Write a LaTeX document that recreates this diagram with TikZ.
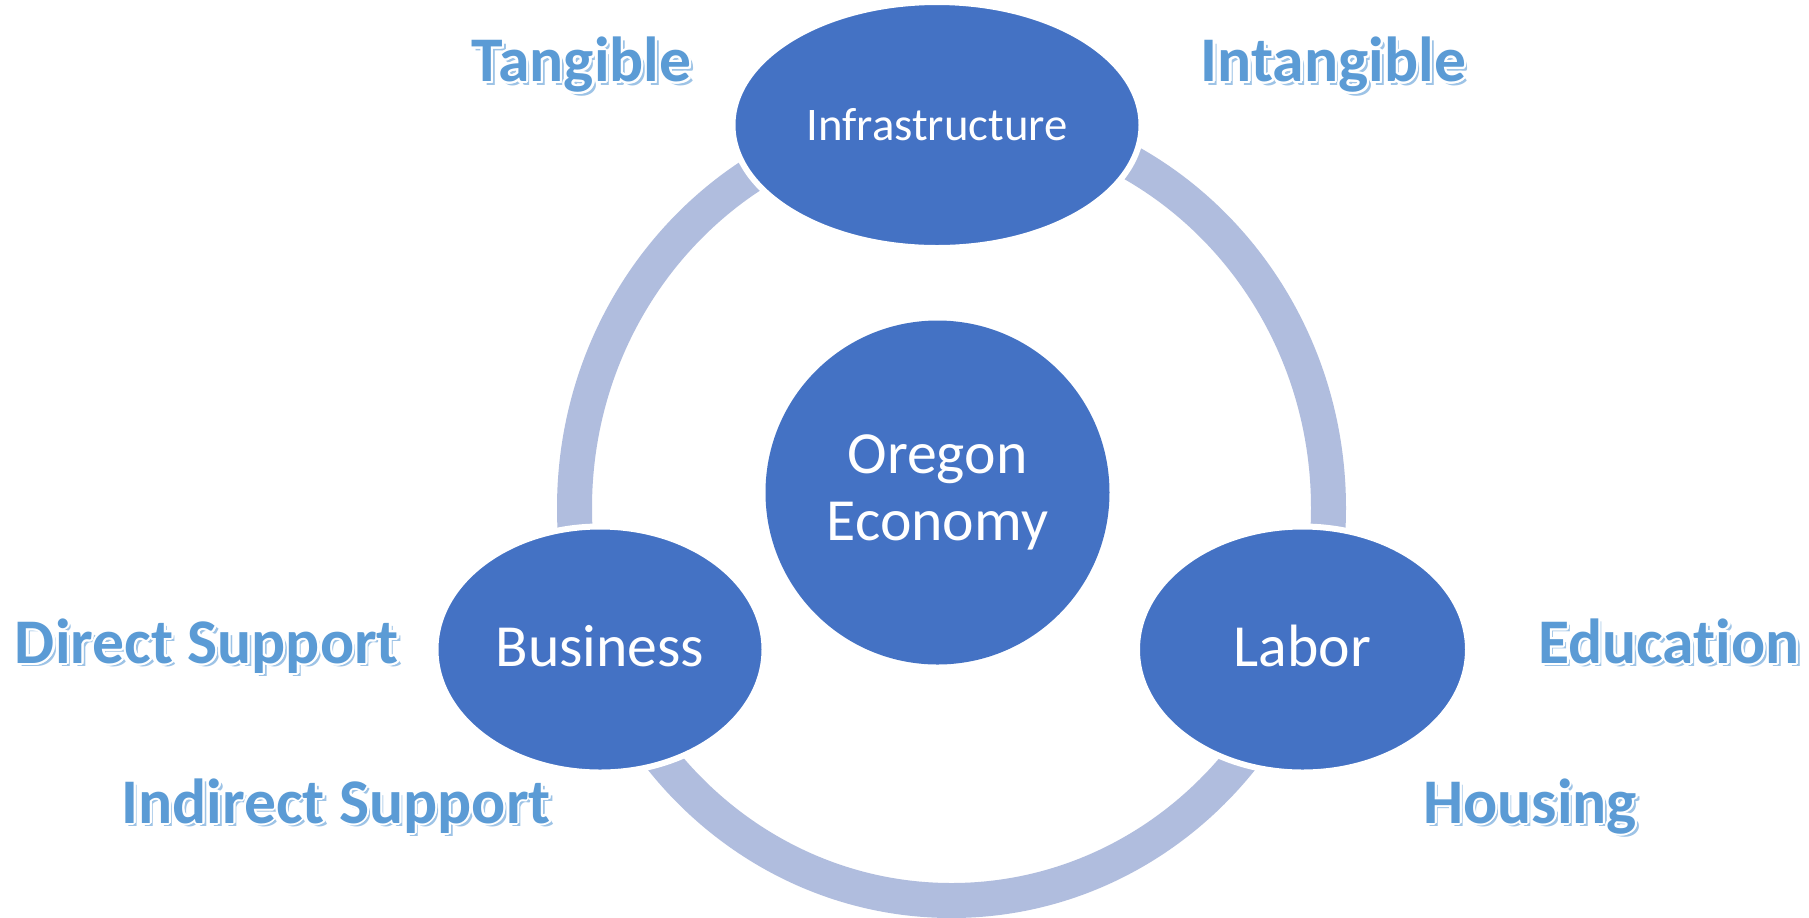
\documentclass[tikz,border=0pt]{standalone}
\usepackage{fontspec}
\setmainfont[Ligatures=NoCommon]{Carlito}
\usepackage{contour}
\contourlength{0.6pt}
\usetikzlibrary{positioning, shapes.geometric}
\definecolor{nodeblue}{RGB}{68,114,196}
\definecolor{ringblue}{RGB}{176,189,222}
\definecolor{labelblue}{RGB}{91,155,213}
\definecolor{shadeblue}{RGB}{157,195,230}
\tikzset{
    hub/.style={circle, fill=nodeblue, text=white, inner sep=0pt, minimum size=3.44cm, align=center, font=\fontsize{17}{19}\selectfont}, % the centre circle
    part/.style={ellipse, fill=nodeblue, draw=white, line width=0.06cm, text=white, inner sep=0pt, minimum height=2.46cm, font=\fontsize{17}{19}\selectfont, text height=13.8pt, text depth=4.3pt}, % the three outer ellipses
    ring/.style={draw=ringblue, line width=0.35cm}, % the band behind the ellipses
    tag/.style={anchor=base, text=labelblue, font=\bfseries\fontsize{18.1}{20}\selectfont}, % the outlined words
    tagshadow/.style={tag, text=shadeblue}, % their shadow
}
% an outlined word with a soft shadow below it
\newcommand{\outlinetag}[3]{%
    \node[tagshadow] at ([shift={(0.035,-0.035)}]#2) {#3};
    \node[tag] (#1) at (#2) {\contour{white}{#3}};
}

\begin{document}
\begin{tikzpicture}
        \path[use as bounding box, fill=white] (0,0) rectangle (18.09,-9.17);

        \coordinate (loop) at (9.515,-5.08);
        \draw[ring] (loop) ellipse [x radius=3.77cm, y radius=3.925cm];

        \node[hub] (oregon) at (9.375,-4.925) {Oregon\\Economy};
        \node[part, minimum width=4.09cm, font=\fontsize{13.3}{15}\selectfont, text height=12pt, text depth=3.3pt] (infra) at (9.37,-1.25) {Infrastructure};
        \node[part, minimum width=3.29cm] (bus) at (6.00,-6.495) {Business};
        \node[part, minimum width=3.31cm, right of=bus, node distance=7.025cm] (labor) {Labor};

        \outlinetag{tangible}{5.815,-0.817}{Tangible}
        \outlinetag{intangible}{13.335,-0.817}{Intangible}
        \outlinetag{direct}{2.07,-6.633}{Direct Support}
        \outlinetag{education}{16.69,-6.633}{Education}
        \outlinetag{indirect}{3.36,-8.23}{Indirect Support}
        \outlinetag{housing}{15.30,-8.23}{Housing}
    \end{tikzpicture}
\end{document}
